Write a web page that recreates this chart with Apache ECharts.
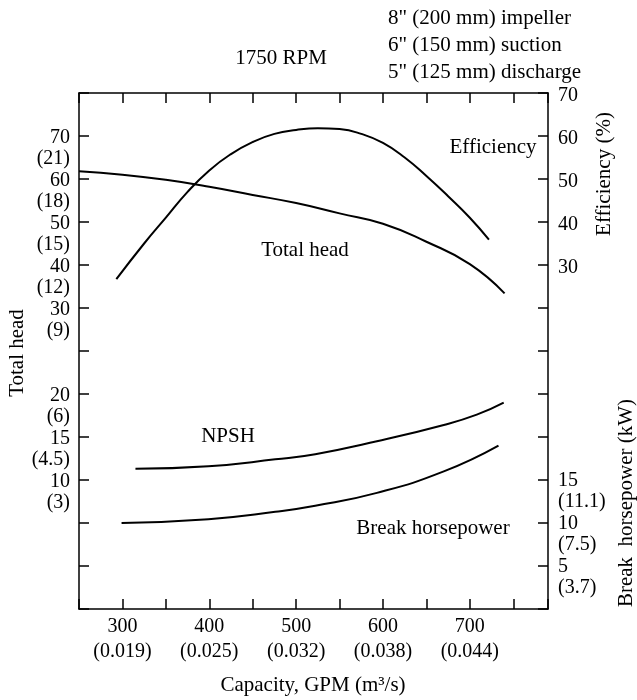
<!DOCTYPE html>
<html>
<head>
<meta charset="utf-8">
<script src="https://cdn.jsdelivr.net/npm/echarts@6/dist/echarts.min.js"></script>
<style>
  html, body { margin: 0; padding: 0; background: #fff; }
  #chart { width: 637px; height: 700px; }
</style>
</head>
<body>
<div id="chart"></div>
<script>
// capacity axis (GPM) with metric equivalents
const capTicks = [300, 400, 500, 600, 700];
const capMetric = ["(0.019)", "(0.025)", "(0.032)", "(0.038)", "(0.044)"];

// left axis: total head (ft) and NPSH (ft)
const headTicks = [70, 60, 50, 40, 30];
const headMetric = ["(21)", "(18)", "(15)", "(12)", "(9)"];
const npshTicks = [20, 15, 10];
const npshMetric = ["(6)", "(4.5)", "(3)"];

// right axis: efficiency (%) and break horsepower
const effTicks = [70, 60, 50, 40, 30];
const bhpTicks = [15, 10, 5];
const bhpMetric = ["(11.1)", "(7.5)", "(3.7)"];

// curves
const headGpm = [250, 300, 350, 400, 450, 500, 550, 600, 650, 700, 740];
const headFt = [61.8, 61.0, 59.8, 58.2, 56.3, 54.4, 52.0, 49.6, 45.4, 40.2, 33.4];

const effGpm = [293, 325, 350, 375, 400, 425, 450, 475, 500, 525, 550, 575, 600, 625, 650, 675, 700, 722];
const effPct = [26.7, 35.0, 41.0, 47.0, 52.0, 55.8, 58.6, 60.5, 61.4, 61.8, 61.6, 60.5, 58.4, 55.0, 50.7, 46.0, 41.0, 35.9];

const npshGpm = [315, 399, 476, 522, 593, 670, 708, 739];
const npshFt = [11.3, 11.6, 12.4, 13.0, 14.5, 16.4, 17.6, 19.0];

const bhpGpm = [299, 399, 476, 522, 593, 670, 733];
const bhpHp = [10.0, 10.45, 11.3, 12.0, 13.5, 16.0, 19.0];

const FONT = '"Liberation Serif", "DejaVu Serif", serif';
const FS = 20;   // tick labels
const TFS = 21;  // words

const zip = (xs, ys) => xs.map((x, i) => [x, ys[i]]);

const tickRich = (spacer) => ({
  sp: { fontSize: 1, lineHeight: spacer },
  v: { fontFamily: FONT, fontSize: FS, lineHeight: 21, color: "#000" },
});

// value sits on the tick, metric just below it
const twoLine = (ticks, metric) => (v) => {
  const i = ticks.indexOf(v);
  if (i < 0) return "";
  return "{sp| }\n{v|" + ticks[i] + "}\n{v|" + metric[i] + "}";
};

const lineSeries = (name, data, yAxisIndex) => ({
  name: name,
  type: "line",
  smooth: true,
  showSymbol: false,
  silent: true,
  xAxisIndex: 0,
  yAxisIndex: yAxisIndex,
  data: data,
  lineStyle: { color: "#000", width: 2 },
});

const blackLine = { show: true, onZero: false, lineStyle: { color: "#000", width: 1.5 } };
const inTick = { show: true, inside: true, length: 10, lineStyle: { color: "#000", width: 1.5 } };

const label = (text, x, y, extra) => ({
  type: "text",
  x: x,
  y: y,
  ...extra,
  style: {
    text: text,
    fill: "#000",
    font: TFS + "px " + FONT,
    align: "center",
    verticalAlign: "middle",
  },
});

const chart = echarts.init(document.getElementById("chart"));

const option = {
  animation: false,
  backgroundColor: "#fff",
  grid: { left: 79, right: 89, top: 93, bottom: 91 },
  xAxis: [
    {
      type: "value",
      position: "bottom",
      min: 250,
      max: 790,
      interval: 50,
      axisLine: blackLine,
      axisTick: inTick,
      splitLine: { show: false },
      axisLabel: {
        margin: 5,
        color: "#000",
        fontFamily: FONT,
        fontSize: FS,
        lineHeight: 25,
        formatter: (v) => {
          const i = capTicks.indexOf(v);
          return i < 0 ? "" : capTicks[i] + "\n" + capMetric[i];
        },
      },
    },
    {
      type: "value",
      position: "top",
      min: 250,
      max: 790,
      interval: 50,
      axisLine: blackLine,
      axisTick: inTick,
      splitLine: { show: false },
      axisLabel: { show: false },
    },
  ],
  yAxis: [
    {
      // total head, ft
      type: "value",
      position: "left",
      min: -40,
      max: 80,
      interval: 10,
      axisLine: blackLine,
      axisTick: inTick,
      splitLine: { show: false },
      axisLabel: {
        margin: 9,
        rich: tickRich(25),
        formatter: twoLine(headTicks, headMetric),
      },
    },
    {
      // NPSH, ft
      type: "value",
      position: "left",
      min: -5,
      max: 55,
      interval: 5,
      axisLine: { show: false, onZero: false },
      axisTick: { show: false },
      splitLine: { show: false },
      axisLabel: {
        margin: 9,
        rich: tickRich(25),
        formatter: twoLine(npshTicks, npshMetric),
      },
    },
    {
      // efficiency, %
      type: "value",
      position: "right",
      min: -50,
      max: 70,
      interval: 10,
      axisLine: blackLine,
      axisTick: inTick,
      splitLine: { show: false },
      axisLabel: {
        margin: 10,
        rich: tickRich(5),
        formatter: (v) => (effTicks.indexOf(v) < 0 ? "" : "{sp| }\n{v|" + v + "}"),
      },
    },
    {
      // break horsepower
      type: "value",
      position: "right",
      min: 0,
      max: 60,
      interval: 5,
      axisLine: { show: false, onZero: false },
      axisTick: { show: false },
      splitLine: { show: false },
      axisLabel: {
        margin: 10,
        rich: tickRich(22),
        formatter: twoLine(bhpTicks, bhpMetric),
      },
    },
  ],
  series: [
    lineSeries("Total head", zip(headGpm, headFt), 0),
    lineSeries("NPSH", zip(npshGpm, npshFt), 1),
    lineSeries("Efficiency", zip(effGpm, effPct), 2),
    lineSeries("Break horsepower", zip(bhpGpm, bhpHp), 3),
  ],
  graphic: [
    label("1750 RPM", 281, 58),
    {
      type: "text",
      x: 388,
      y: 5,
      style: {
        text: '8" (200 mm) impeller\n6" (150 mm) suction\n5" (125 mm) discharge',
        fill: "#000",
        font: TFS + "px " + FONT,
        lineHeight: 27,
        align: "left",
        verticalAlign: "top",
      },
    },
    label("Efficiency", 493, 147),
    label("Total head", 305, 250),
    label("NPSH", 228, 436),
    label("Break horsepower", 433, 528),
    label("Capacity, GPM (m\u00b3/s)", 313, 685),
    label("Total head", 17, 353, { rotation: Math.PI / 2 }),
    label("Efficiency (%)", 604, 174, { rotation: Math.PI / 2 }),
    label("Break  horsepower (kW)", 626, 503, { rotation: Math.PI / 2 }),
  ],
};

chart.setOption(option);
</script>
</body>
</html>
